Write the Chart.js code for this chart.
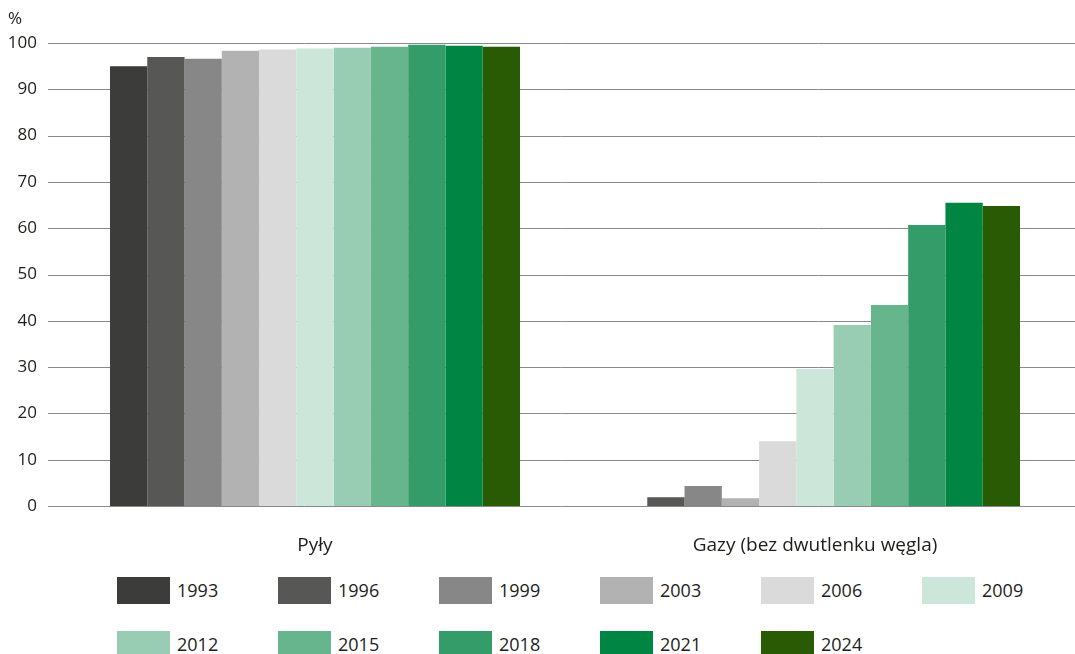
<!DOCTYPE html>
<html lang="pl">
<head>
<meta charset="utf-8">
<script src="https://cdn.jsdelivr.net/npm/chart.js@4"></script>
<style>
  body { margin: 0; background: #fff; font-family: "Open Sans", sans-serif; color: #1d1d1b; }
  #wrap { position: relative; width: 1075px; height: 654px; overflow: hidden; }
  #box { position: absolute; left: 0; top: 0; width: 1075px; height: 560px; }
  #unit { position: absolute; left: 8px; top: 6px; font-size: 17px; }
  #legend { position: absolute; left: 117px; top: 577px; width: 980px; display: flex; flex-wrap: wrap; }
  .item { width: 161px; height: 54px; display: flex; align-items: flex-start; }
  .sw { width: 53px; height: 27px; margin-right: 7px; }
  .lbl { font-size: 18px; line-height: 27px; }
</style>
</head>
<body>
<div id="wrap">
  <div id="box"><canvas id="chart"></canvas></div>
  <div id="unit">%</div>
  <div id="legend"></div>
</div>
<script>
var categories = ['Pyły', 'Gazy (bez dwutlenku węgla)'];
var years = ['1993', '1996', '1999', '2003', '2006', '2009', '2012', '2015', '2018', '2021', '2024'];
var pyly = [95.0, 97.0, 96.6, 98.3, 98.6, 98.8, 99.0, 99.2, 99.6, 99.4, 99.2];
var gazy = [null, 1.9, 4.3, 1.7, 14.0, 29.6, 39.1, 43.4, 60.7, 65.5, 64.8];
var colors = ['#3c3c3b', '#575756', '#878787', '#b2b2b2', '#dadada', '#cce6d9',
              '#99cdb3', '#66b58d', '#339c68', '#008542', '#285b03'];
var yTicks = [0, 10, 20, 30, 40, 50, 60, 70, 80, 90, 100];

var datasets = years.map(function (y, i) {
  return {
    label: y,
    data: [pyly[i], gazy[i]],
    backgroundColor: colors[i],
    borderWidth: 0
  };
});

// gridlines run wider than the bar area, so draw them from the y scale
var wideGrid = {
  id: 'wideGrid',
  beforeDatasetsDraw: function (chart) {
    var ctx = chart.ctx, y = chart.scales.y;
    ctx.save();
    ctx.strokeStyle = '#8a8a8a';
    ctx.lineWidth = 1;
    y.ticks.forEach(function (t) {
      var py = Math.round(y.getPixelForValue(t.value)) + 0.5;
      ctx.beginPath();
      ctx.moveTo(48, py);
      ctx.lineTo(1075, py);
      ctx.stroke();
    });
    ctx.restore();
  }
};

var chart = new Chart(document.getElementById('chart'), {
  type: 'bar',
  data: { labels: categories, datasets: datasets },
  plugins: [wideGrid],
  options: {
    responsive: true,
    maintainAspectRatio: false,
    animation: false,
    layout: { padding: { top: 43, right: 10, left: 0, bottom: 0 } },
    datasets: { bar: { categoryPercentage: 0.82, barPercentage: 1.0 } },
    plugins: { legend: { display: false }, tooltip: { enabled: false } },
    scales: {
      x: {
        grid: { display: false },
        border: { display: false },
        ticks: { color: '#1d1d1b', padding: 20, font: { family: 'Open Sans', size: 19 } },
        afterFit: function (s) { s.height = 54; }
      },
      y: {
        min: 0,
        max: 100,
        afterBuildTicks: function (s) { s.ticks = yTicks.map(function (v) { return { value: v }; }); },
        grid: { display: false, drawTicks: false },
        border: { display: false },
        ticks: { color: '#1d1d1b', padding: 28, font: { family: 'Open Sans', size: 17 } },
        afterFit: function (s) { s.width = 65; }
      }
    }
  }
});

var legend = document.getElementById('legend');
chart.data.datasets.forEach(function (ds) {
  var item = document.createElement('div');
  item.className = 'item';
  var sw = document.createElement('div');
  sw.className = 'sw';
  sw.style.background = ds.backgroundColor;
  var lbl = document.createElement('span');
  lbl.className = 'lbl';
  lbl.textContent = ds.label;
  item.appendChild(sw);
  item.appendChild(lbl);
  legend.appendChild(item);
});
</script>
</body>
</html>
